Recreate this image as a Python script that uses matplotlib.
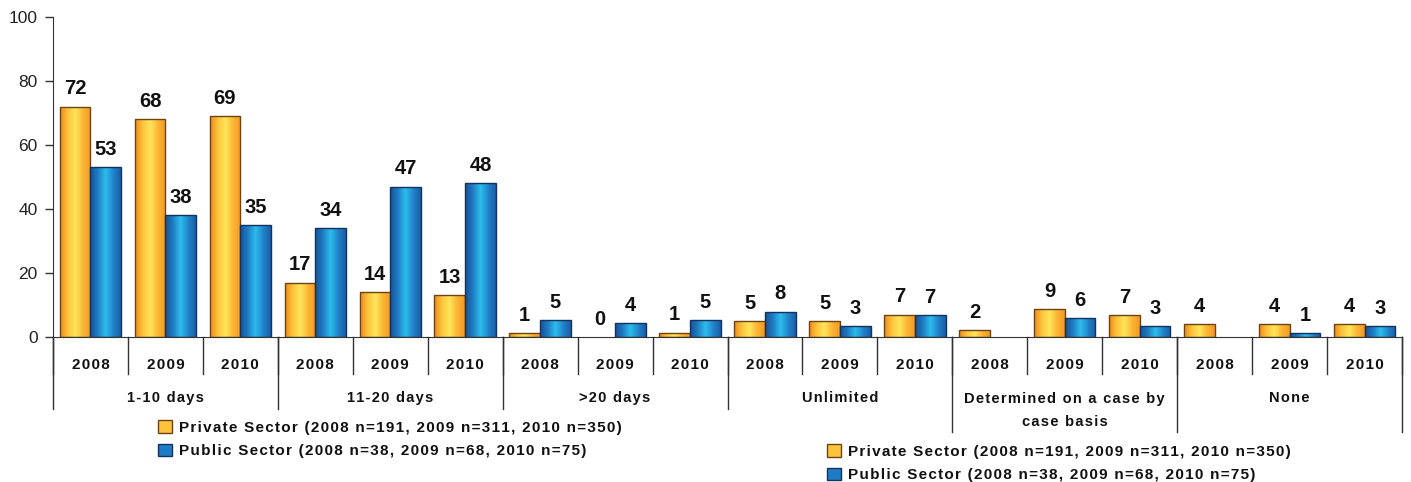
import numpy as np
import matplotlib
matplotlib.use("Agg")
import matplotlib.pyplot as plt
from matplotlib.colors import LinearSegmentedColormap
from matplotlib.patches import Patch
import matplotlib.transforms as mtransforms

plt.rcParams['font.family'] = ['Liberation Sans', 'DejaVu Sans']

# data
categories = ["1-10 days", "11-20 days", ">20 days", "Unlimited",
              "Determined on a case by\ncase basis", "None"]
years = ["2008", "2009", "2010"]
private = [72, 68, 69, 17, 14, 13, 1.2, 0, 1.4, 4.9, 4.9, 7.0,
           2.1, 8.65, 6.8, 4.0, 4.0, 4.0]
public = [53, 38, 35, 34, 47, 48, 5.2, 4.4, 5.2, 7.9, 3.3, 6.8,
          np.nan, 5.8, 3.3, np.nan, 1.1, 3.3]
private_label = "Private Sector (2008 n=191, 2009 n=311, 2010 n=350)"
public_label = "Public Sector (2008 n=38, 2009 n=68, 2010 n=75)"


def spaced(s):
    # imitate the wide letter spacing of the original
    return "\u200a".join(s)


orange_cmap = LinearSegmentedColormap.from_list(
    "org", ["#f08c1a", "#fcc33c", "#ffe65a", "#fbb535", "#f59a22"])
blue_cmap = LinearSegmentedColormap.from_list(
    "blu", ["#185296", "#1f7cc4", "#2cbdec", "#2285cc", "#1a5ea6"])

fig = plt.figure(figsize=(14.11, 4.82), dpi=100)
ax = fig.add_axes([53 / 1411, 145 / 482, 1349 / 1411, 320 / 482])

n = len(private)
x = np.arange(n)
w = 0.41
grad = np.linspace(0, 1, 64).reshape(1, -1)


def gradient_bars(xpos, vals, cmap, edge):
    bars = ax.bar(xpos, np.nan_to_num(vals), w, facecolor="none",
                  edgecolor=edge, linewidth=1.0, zorder=3)
    for b, v in zip(bars, vals):
        if np.isnan(v) or v <= 0:
            b.set_visible(False)
            continue
        x0 = b.get_x()
        im = ax.imshow(grad, extent=[x0, x0 + w, 0, v], aspect="auto",
                       cmap=cmap, zorder=2, interpolation="bilinear")
        im.set_clip_path(b)
    return bars


gradient_bars(x - w / 2, private, orange_cmap, "#6b4314")
gradient_bars(x + w / 2, public, blue_cmap, "#14325e")

for xs, vals in [(x - w / 2, private), (x + w / 2, public)]:
    for xi, v in zip(xs, vals):
        if np.isnan(v):
            continue
        ax.annotate(f"{v:.0f}", (xi, v), xytext=(0, 6), textcoords="offset points",
                    ha="center", va="bottom", fontsize=14.5, fontweight="bold",
                    color="#111111")

ax.set_xlim(-0.5, n - 0.5)
ax.set_ylim(0, 100)
ax.set_yticks(np.arange(0, 101, 20))
ax.tick_params(axis="y", direction="out", length=6, width=1, colors="#333333",
               labelsize=12.5, labelcolor="#222222", pad=5)
ax.set_xticks([])
for s in ["top", "right"]:
    ax.spines[s].set_visible(False)
ax.spines["left"].set_color("#333333")
ax.spines["bottom"].set_color("#333333")

trans = mtransforms.blended_transform_factory(ax.transData, ax.transAxes)

# year separators and labels
for i in range(n + 1):
    ax.plot([i - 0.5, i - 0.5], [0, -0.116], transform=trans, color="#333333",
            lw=1, clip_on=False)
for i in range(n):
    ax.text(i, -0.088, spaced(years[i % 3]), transform=trans, ha="center",
            va="center", fontsize=11, fontweight="bold", color="#111111")

# category separators and labels
depths = [-0.225, -0.225, -0.225, -0.225, -0.297, -0.297, -0.297]
for j, d in enumerate(depths):
    ax.plot([3 * j - 0.5, 3 * j - 0.5], [0, d], transform=trans, color="#333333",
            lw=1, clip_on=False)
for j, c in enumerate(categories):
    two = "\n" in c
    ax.text(3 * j + 1, -0.229 if two else -0.191,
            "\n".join(spaced(t) for t in c.split("\n")),
            transform=trans, ha="center", va="center",
            fontsize=10.5, fontweight="bold", color="#111111", linespacing=1.85)

handles = [Patch(facecolor="#fcc33c", edgecolor="#6b4314", label=spaced(private_label)),
           Patch(facecolor="#1f7cc4", edgecolor="#14325e", label=spaced(public_label))]
leg_kw = dict(frameon=False, handlelength=0.9, handleheight=0.9, handletextpad=0.45,
              labelspacing=0.6, borderpad=0, borderaxespad=0,
              prop=dict(family=["Liberation Sans", "DejaVu Sans"], weight="bold", size=11))
leg1 = fig.legend(handles=handles, loc="upper left",
                  bbox_to_anchor=(158 / 1411, 1 - 420 / 482), **leg_kw)
leg2 = fig.legend(handles=handles, loc="upper left",
                  bbox_to_anchor=(827 / 1411, 1 - 444 / 482), **leg_kw)
for leg in (leg1, leg2):
    for t in leg.get_texts():
        t.set_color("#111111")

fig.savefig("out.png", dpi=100)
